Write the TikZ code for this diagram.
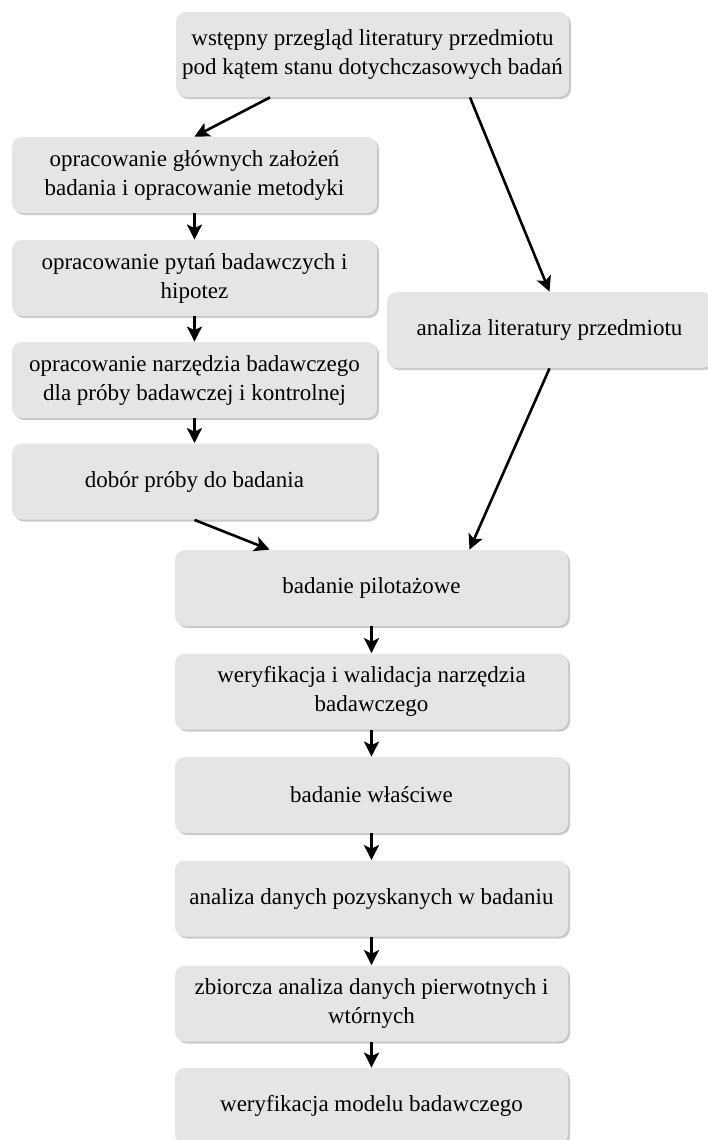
\documentclass[tikz,border=0pt]{standalone}
\usepackage{fontspec}
\setmainfont{Liberation Serif}
\usetikzlibrary{arrows.meta,shadows}

\begin{document}
\begin{tikzpicture}[x = 0.5pt, y = -0.5pt,
        krok/.style = {fill = black!10, rounded corners = 5pt, align = center,
            minimum width = #1, minimum height = 38pt, inner sep = 0pt,
            font = \fontsize{11.5}{14.5}\selectfont,
            drop shadow = {shadow xshift = 1pt, shadow yshift = -1pt, fill = black!30, opacity = 0.7}},
        krok/.default = 196.5pt,
        strz/.style = {line width = 1.3pt, -{Stealth[length = 7.5pt, width = 7.5pt, inset = 1.8pt]}}]

        \useasboundingbox (0, 0) rectangle (707, 1140);

        \node[krok, minimum height = 42.5pt] (przeglad) at (372.5, 54.5)
            {wstępny przegląd literatury przedmiotu\\pod kątem stanu dotychczasowych badań};

        % lewa kolumna
        \node[krok = 182.5pt] (zalozenia) at (194.5, 175)
            {opracowanie głównych założeń\\badania i opracowanie metodyki};
        \node[krok = 182.5pt] (pytania) at (194.5, 278)
            {opracowanie pytań badawczych i\\hipotez};
        \node[krok = 182.5pt] (narzedzie) at (194.5, 380)
            {opracowanie narzędzia badawczego\\dla próby badawczej i kontrolnej};
        \node[krok = 182.5pt] (dobor) at (194.5, 481.5)
            {dobór próby do badania};

        % prawa kolumna
        \node[krok = 162.5pt] (analizalit) at (549.5, 330)
            {analiza literatury przedmiotu};

        % srodek
        \node[krok] (pilot) at (371.5, 588) {badanie pilotażowe};
        \node[krok] (walidacja) at (371.5, 691.5)
            {weryfikacja i walidacja narzędzia\\badawczego};
        \node[krok] (wlasciwe) at (371.5, 795) {badanie właściwe};
        \node[krok] (analizadan) at (371.5, 898.5)
            {analiza danych pozyskanych w badaniu};
        \node[krok] (zbiorcza) at (371.5, 1003.5)
            {zbiorcza analiza danych pierwotnych i\\wtórnych};
        \node[krok] (model) at (371.5, 1106) {weryfikacja modelu badawczego};

        \draw[strz] ([xshift = -51.25pt]przeglad.south) -- (zalozenia.north);
        \draw[strz] ([xshift = 48.75pt]przeglad.south) -- (analizalit.north);
        \draw[strz] (zalozenia.south) -- (pytania.north);
        \draw[strz] (pytania.south) -- (narzedzie.north);
        \draw[strz] (narzedzie.south) -- (dobor.north);
        \draw[strz] (dobor.south) -- ([xshift = -51pt]pilot.north);
        \draw[strz] (analizalit.south) -- ([xshift = 49pt]pilot.north);

        \draw[strz] (pilot.south) -- (walidacja.north);
        \draw[strz] (walidacja.south) -- (wlasciwe.north);
        \draw[strz] (wlasciwe.south) -- (analizadan.north);
        \draw[strz] (analizadan.south) -- (zbiorcza.north);
        \draw[strz] (zbiorcza.south) -- (model.north);

    \end{tikzpicture}
\end{document}
